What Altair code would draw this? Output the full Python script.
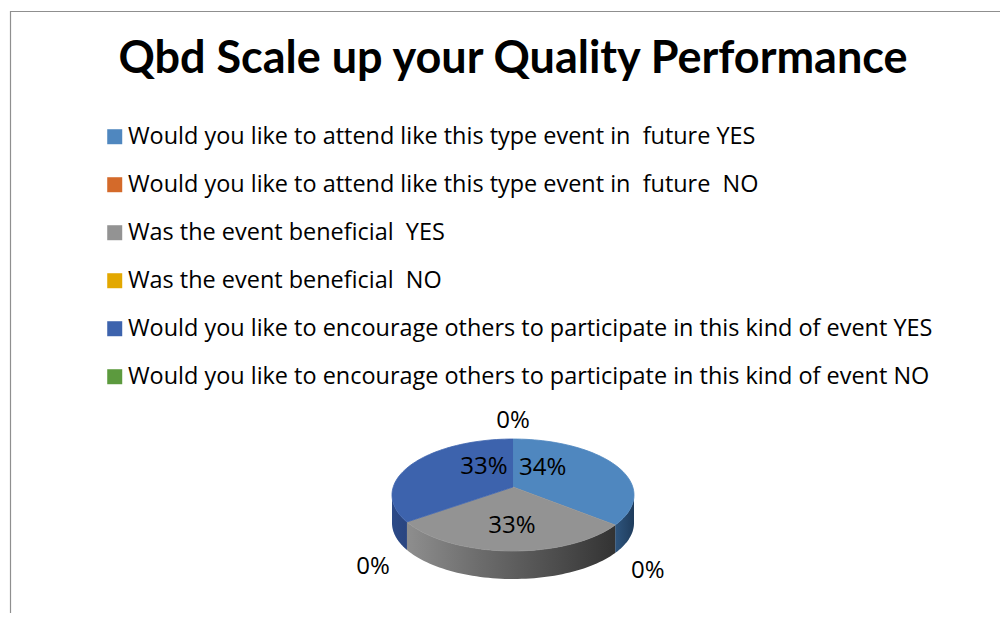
import altair as alt
import pandas as pd

# ---------------- data ----------------
TITLE = "Qbd Scale up your Quality Performance"
CATEGORIES = [
    "Would you like to attend like this type event in  future YES",
    "Would you like to attend like this type event in  future  NO",
    "Was the event beneficial  YES",
    "Was the event beneficial  NO",
    "Would you like to encourage others to participate in this kind of event YES",
    "Would you like to encourage others to participate in this kind of event NO",
]
VALUES = [34, 0, 33, 0, 33, 0]
COLORS = ["#4F87BF", "#D46A2A", "#939393", "#E3A800", "#3D63AD", "#5C9A3E"]

# ---------------- layout / style ----------------
W, H = 990, 602
CX, CY = 503, 484          # ellipse centre (view coords)
RX, RY = 121, 56           # ellipse radii
APEX_DY = -8               # perspective offset of the pie apex
DEPTH = 28                 # thickness of the 3D side
N = 60                     # arc resolution
FONT = "Open Sans"
TITLE_FONT = "Lato"

df = pd.DataFrame({"category": CATEGORIES, "value": VALUES, "idx": list(range(len(VALUES)))})

xs = alt.Scale(domain=[0, W], range=[0, W])
ys = alt.Scale(domain=[0, H], range=[0, H])
X = alt.X("px:Q", scale=xs, axis=None)
Y = alt.Y("py:Q", scale=ys, axis=None)

base = (
    alt.Chart(df)
    .transform_joinaggregate(total="sum(value)")
    .transform_window(cum="sum(value)", sort=[alt.SortField("idx", order="ascending")], frame=[None, 0])
    .transform_calculate(
        a0="2*PI*(datum.cum - datum.value)/datum.total",
        a1="2*PI*datum.cum/datum.total",
    )
)

# ---- side faces (visible lower half) ----
side = (
    base.transform_filter("datum.value > 0")
    .transform_calculate(s0="max(datum.a0, PI/2)", s1="min(datum.a1, 3*PI/2)")
    .transform_filter("datum.s1 > datum.s0")
    .transform_calculate(t=f"sequence(0, {2 * N + 2})")
    .transform_flatten(["t"])
    .transform_calculate(u=f"datum.t > {N} ? ({2 * N + 1} - datum.t) : datum.t")
    .transform_calculate(th=f"datum.s0 + (datum.s1 - datum.s0) * datum.u / {N}")
    .transform_calculate(
        px=f"{CX} + {RX} * sin(datum.th)",
        py=f"{CY} - {RY} * cos(datum.th) + (datum.t > {N} ? {DEPTH} : 0)",
    )
)


def grad(stops):
    return {
        "gradient": "linear",
        "x1": 0, "x2": 1, "y1": 0, "y2": 0,
        "stops": [{"offset": o, "color": c} for o, c in stops],
    }


SIDE_FILLS = {
    0: grad([(0, "#2E557E"), (1, "#1F3C5C")]),
    2: grad([(0, "#8E8E8E"), (0.35, "#6C6C6C"), (0.75, "#4A4A4A"), (1, "#333333")]),
    4: grad([(0, "#2C4A87"), (1, "#2A4580")]),
}
side_layers = [
    side.transform_filter(f"datum.idx == {i}")
    .mark_line(fill=f, strokeWidth=0, strokeOpacity=0)
    .encode(x=X, y=Y, order="t:Q")
    for i, f in SIDE_FILLS.items()
]

# ---- top surfaces (carry the legend) ----
top = (
    base.transform_filter("datum.value > 0")
    .transform_calculate(t=f"sequence(-1, {N + 1})")
    .transform_flatten(["t"])
    .transform_calculate(th=f"datum.a0 + (datum.a1 - datum.a0) * max(datum.t, 0) / {N}")
    .transform_calculate(
        px=f"datum.t < 0 ? {CX} : {CX} + {RX} * sin(datum.th)",
        py=f"datum.t < 0 ? {CY + APEX_DY} : {CY} - {RY} * cos(datum.th)",
    )
    .mark_line(strokeWidth=0.8)
    .encode(
        x=X,
        y=Y,
        order="t:Q",
        fill=alt.Fill(
            "category:N",
            scale=alt.Scale(domain=CATEGORIES, range=COLORS),
            legend=alt.Legend(
                title=None,
                orient="none",
                legendX=93,
                legendY=114,
                direction="vertical",
                symbolType="square",
                symbolSize=225,
                symbolStrokeWidth=0,
                symbolOpacity=1,
                labelFont=FONT,
                labelFontSize=23.45,
                labelColor="black",
                labelLimit=1200,
                labelOffset=1.5,
                rowPadding=23.0,
                padding=0,
                labelExpr="replace(datum.label, regexp('  ', 'g'), '\u00a0 ')",
            ),
        ),
        stroke=alt.Stroke("category:N", scale=alt.Scale(domain=CATEGORIES, range=COLORS), legend=None),
    )
)

# ---- data labels ----
labels = (
    base.transform_calculate(
        mid="(datum.a0 + datum.a1)/2",
        pct='format(datum.value/datum.total, ".0%")',
    )
    .transform_calculate(
        px=f"datum.value > 0 ? {CX} + 0.28*{RX}*sin(datum.mid) : {CX} + 1.32*{RX}*sin(datum.mid)",
        py=(
            f"datum.value > 0 ? {CY + APEX_DY} - 0.7*{RY}*cos(datum.mid) : "
            f"{CY} - 1.32*{RY}*cos(datum.mid) + (cos(datum.mid) < 0 ? {DEPTH + 8} : 0)"
        ),
    )
    .mark_text(font=FONT, fontSize=24, color="black", align="center", baseline="middle")
    .encode(x=X, y=Y, text="pct:N")
)

# ---- title ----
title = (
    alt.Chart(pd.DataFrame({"t": [TITLE]}))
    .mark_text(font=TITLE_FONT, fontSize=45, fontWeight="bold", color="black", align="center", baseline="alphabetic")
    .encode(text="t:N", x=alt.value(503), y=alt.value(62))
)

# ---- chart border (left and top edges visible) ----
dummy = alt.Chart(pd.DataFrame({"k": [0]}))
border_left = dummy.mark_rule(color="#8F8F8F", strokeWidth=1.2).encode(
    x=alt.value(0.5), y=alt.value(0), y2=alt.value(H)
)
border_top = dummy.mark_rule(color="#8F8F8F", strokeWidth=1.2).encode(
    x=alt.value(0), x2=alt.value(W + 2), y=alt.value(0.5)
)

chart = (
    alt.layer(border_left, border_top, *side_layers, top, labels, title)
    .properties(
        width=W,
        height=H,
        padding={"left": 2, "top": 3, "right": 0, "bottom": 0},
        autosize=alt.AutoSizeParams(type="none"),
        background="white",
    )
    .configure_view(stroke=None)
)

chart.save("out.html", embed_options={"renderer": "svg", "actions": False})
